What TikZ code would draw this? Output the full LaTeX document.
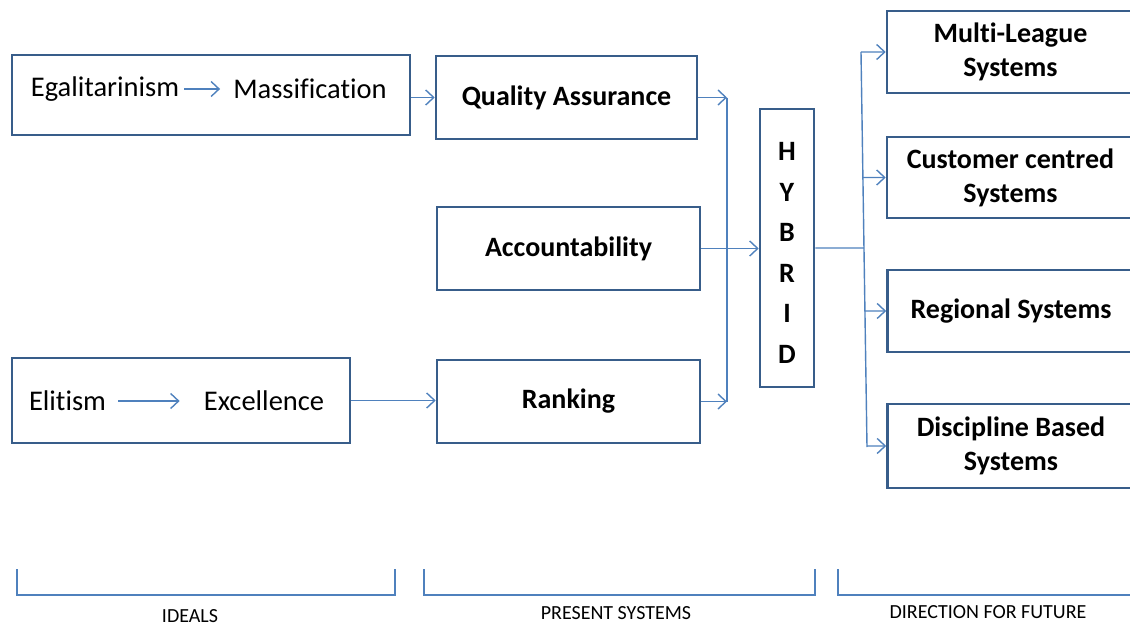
\documentclass[tikz,border=0pt]{standalone}
\usepackage{fontspec}
\setmainfont[Ligatures={NoCommon,NoContextual}]{Carlito}
\usetikzlibrary{arrows.meta}

\definecolor{boxblue}{RGB}{56,93,138}
\definecolor{linkblue}{RGB}{79,129,189}

\begin{document}
\begin{tikzpicture}[x=1pt,y=-1pt,
  box/.style={draw=boxblue,line width=2.6pt,inner sep=0pt,align=center,
    font=\fontsize{28}{34}\selectfont\bfseries},
  plain/.style={inner sep=0pt,font=\fontsize{28.5}{34}\selectfont},
  link/.style={draw=linkblue,line width=1.4pt},
  tip/.style={-{Straight Barb[length=8pt,width=15pt,line width=1.4pt]}},
  caption/.style={inner sep=0pt,font=\fontsize{20}{24}\selectfont}]
  \useasboundingbox (0,0) rectangle (1130,627);
  \clip (0,0) rectangle (1130,627);

  % ideals
  \node[box,minimum width=398,minimum height=80] (egal) at (211,95) {};
  \node[plain] (egaltext) at (105,89) {Egalitarinism};
  \node[plain] (masstext) at (310,89) {Massification};
  \node[box,minimum width=338,minimum height=85] (elit) at (181,400.5) {};
  \node[plain] (elittext) at (67.5,401) {Elitism};
  \node[plain] (exctext) at (264,401) {Excellence};

  \draw[link,tip,shorten <=5pt,shorten >=13pt] (egaltext.east) -- (masstext.west);
  \draw[link,tip,shorten <=12pt,shorten >=24pt] (elittext.east) -- (exctext.west);

  % present systems
  \node[box,minimum width=261,minimum height=83] (qa) at (566.5,97.5) {Quality Assurance};
  \node[box,minimum width=263,minimum height=83] (acc) at (568.5,248.5) {Accountability};
  \node[box,minimum width=263,minimum height=83] (rank) at (568.5,401.5) {Ranking};
  \node[box,minimum width=54,minimum height=278,
    font=\fontsize{28}{40.5}\selectfont\bfseries] (hyb) at (787,248) {};
  \node[inner sep=0pt,align=center,font=\fontsize{28}{40.5}\selectfont\bfseries]
    (hybtext) at (787,253) {H\\Y\\B\\R\\I\\D};

  \draw[link,tip] (egal.east |- qa.west) -- (qa.west);
  \draw[link,tip] (elit.east) -- (elit.east -| rank.west);

  \coordinate (lbus) at (727,250);
  \draw[link,tip] (qa.east) -- (qa.east -| lbus);
  \draw[link,tip] (rank.east) -- (rank.east -| lbus);
  \draw[link] (qa.east -| lbus) -- (rank.east -| lbus);
  \draw[link,tip] (acc.east) -- (acc.east -| hyb.west);

  % direction for future
  \node[box,minimum width=247,minimum height=82] (league) at (1010.5,52) {Multi-League\\Systems};
  \node[box,minimum width=247,minimum height=81] (customer) at (1010.5,177.5) {Customer centred\\Systems};
  \node[box,minimum width=247,minimum height=82] (regional) at (1011,311) {Regional Systems};
  \node[box,minimum width=247,minimum height=84] (discipline) at (1011,446) {Discipline Based\\Systems};

  \coordinate (rtop) at (861,52);
  \coordinate (rbot) at (867,447);
  \draw[link] (rtop) -- (rbot);
  \draw[link] (hyb.east) -- (intersection of rtop--rbot and hyb.west--hyb.east);
  \foreach \b in {league,customer,regional,discipline}
    \draw[link,tip] (intersection of rtop--rbot and \b.west--\b.east) -- (\b.west);

  % brackets
  \draw[link,line width=1.1pt] (17,569) |- (395,595) -- (395,569);
  \draw[link,line width=1.1pt] (424,569) |- (815,595) -- (815,569);
  \draw[link,line width=1.1pt] (838,569) |- (1135,595);

  \node[caption] (ideals) at (190,616) {IDEALS};
  \node[caption] (present) at (616,613) {PRESENT SYSTEMS};
  \node[caption] (future) at (988,612) {DIRECTION FOR FUTURE};
\end{tikzpicture}
\end{document}
